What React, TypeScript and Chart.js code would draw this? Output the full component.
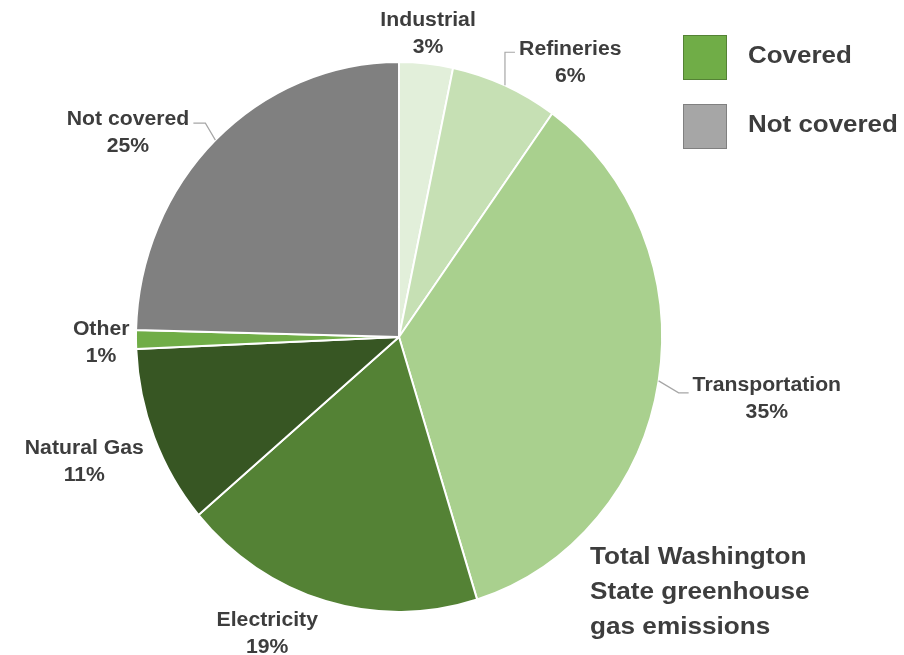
import React, { useEffect, useRef } from "react";
import { Chart, registerables } from "chart.js";

Chart.register(...registerables);

const categories = ["Industrial", "Refineries", "Transportation", "Electricity", "Natural Gas", "Other", "Not covered"];
const shares = [3.3, 6.6, 35.3, 18.6, 10.5, 1.1, 24.6];
const shareLabels = ["3%", "6%", "35%", "19%", "11%", "1%", "25%"];
const sliceColors = ["#e2efda", "#c6e0b4", "#a9d08e", "#548235", "#375623", "#70ad47", "#808080"];
const legendLabels = ["Covered", "Not covered"];
const legendColors = ["#70ad47", "#a6a6a6"];
const legendBorders = ["#548235", "#808080"];
const titleLines = ["Total Washington", "State greenhouse", "gas emissions"];

const TEXT = "#3d3d3d";
const FONT = "'Liberation Sans', Arial, sans-serif";
const SX = 263 / 269;
const SY = 275 / 269;

// label placement relative to each slice: angle tweak (deg), distance as multiple of radius, pixel nudge, leader style
const labelLayout = [
  { dAng: -0.5, dist: 1.14, nx: 0, ny: 2, leader: null },
  { dAng: 8.0, dist: 1.21, nx: 0, ny: 2, leader: "refineries" },
  { dAng: -0.7, dist: 1.39, nx: -2, ny: 6, leader: "transport" },
  { dAng: 8.3, dist: 1.19, nx: 1, ny: 5, leader: null },
  { dAng: -0.6, dist: 1.25, nx: -3, ny: -2, leader: null },
  { dAng: -0.5, dist: 1.10, nx: -2, ny: 0, leader: null },
  { dAng: -8.5, dist: 1.27, nx: 1, ny: 2, leader: "notcovered" },
];

function drawText(ctx: any, text: string, x: number, y: number, size: number, align: string, hs: number) {
  ctx.save();
  ctx.font = `bold ${size}px ${FONT}`;
  ctx.textBaseline = "middle";
  ctx.textAlign = align;
  ctx.translate(x, y);
  ctx.scale(hs, 1);
  ctx.fillText(text, 0, 0);
  ctx.restore();
}

const stretchPlugin = {
  id: "stretch",
  beforeDatasetsDraw(chart: any) {
    const arc = chart.getDatasetMeta(0).data[0];
    const ctx = chart.ctx;
    ctx.save();
    ctx.translate(arc.x, arc.y);
    ctx.scale(SX, SY);
    ctx.translate(-arc.x, -arc.y);
  },
  afterDatasetsDraw(chart: any) {
    chart.ctx.restore();
  },
};

const labelPlugin = {
  id: "customLabels",
  afterDraw(chart: any) {
    const ctx = chart.ctx;
    const meta = chart.getDatasetMeta(0);
    ctx.save();
    meta.data.forEach((arc: any, i: number) => {
      const { x, y, startAngle, endAngle, outerRadius } = arc.getProps(["x", "y", "startAngle", "endAngle", "outerRadius"], true);
      const mid = (startAngle + endAngle) / 2;
      const lay = labelLayout[i];
      const a = mid + (lay.dAng * Math.PI) / 180;
      const lx = x + Math.cos(a) * outerRadius * lay.dist + lay.nx;
      const ly = y + Math.sin(a) * outerRadius * lay.dist + lay.ny;
      const ex = x + Math.cos(mid) * outerRadius * SX;
      const ey = y + Math.sin(mid) * outerRadius * SY;
      ctx.strokeStyle = "#a6a6a6";
      ctx.lineWidth = 1.2;
      if (lay.leader === "refineries") {
        ctx.beginPath();
        ctx.moveTo(ex, ey);
        ctx.lineTo(ex, ly - 10);
        ctx.lineTo(ex + 10, ly - 10);
        ctx.stroke();
      } else if (lay.leader === "transport") {
        ctx.beginPath();
        ctx.moveTo(ex, ey);
        ctx.lineTo(ex + 20, ey + 12);
        ctx.lineTo(ex + 30, ey + 12);
        ctx.stroke();
      } else if (lay.leader === "notcovered") {
        ctx.beginPath();
        ctx.moveTo(ex, ey);
        ctx.lineTo(ex - 10, ey - 17);
        ctx.lineTo(ex - 22, ey - 17);
        ctx.stroke();
      }
      ctx.fillStyle = TEXT;
      drawText(ctx, categories[i], lx, ly - 13, 20, "center", 1.06);
      drawText(ctx, shareLabels[i], lx, ly + 14, 20, "center", 1.06);
    });

    // legend
    const area = chart.chartArea;
    const lgX = area.right + 14;
    legendLabels.forEach((lab, i) => {
      const by = 35 + i * 69;
      ctx.fillStyle = legendColors[i];
      ctx.fillRect(lgX, by, 44, 45);
      ctx.strokeStyle = legendBorders[i];
      ctx.lineWidth = 1;
      ctx.strokeRect(lgX + 0.5, by + 0.5, 43, 44);
      ctx.fillStyle = TEXT;
      drawText(ctx, lab, lgX + 65, by + 21, 24, "left", 1.08);
    });

    // title block
    ctx.fillStyle = TEXT;
    titleLines.forEach((t, i) => {
      drawText(ctx, t, area.right - 79, 557 + i * 35, 24, "left", 1.09);
    });
    ctx.restore();
  },
};

export default function App() {
  const ref = useRef<HTMLCanvasElement | null>(null);
  useEffect(() => {
    document.body.style.margin = "0";
    if (!ref.current) return;
    const chart = new Chart(ref.current, {
      type: "pie",
      data: {
        labels: categories,
        datasets: [
          {
            data: shares,
            backgroundColor: sliceColors,
            borderColor: "#ffffff",
            borderWidth: 2,
          },
        ],
      },
      options: {
        responsive: false,
        animation: false,
        layout: { padding: { left: 129, right: 235, top: 67, bottom: 48 } },
        plugins: {
          legend: { display: false },
          tooltip: { enabled: false },
          title: { display: false },
        },
      },
      plugins: [stretchPlugin, labelPlugin],
    });
    return () => chart.destroy();
  }, []);
  return (
    <div style={{ position: "absolute", left: 0, top: 0, width: 904, height: 655, background: "#fff" }}>
      <canvas ref={ref} width={904} height={655} />
    </div>
  );
}
